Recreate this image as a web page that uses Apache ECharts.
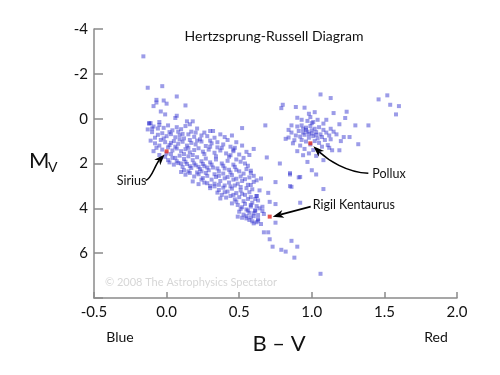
<!DOCTYPE html>
<html><head><meta charset="utf-8">
<script src="https://cdn.jsdelivr.net/npm/echarts@6/dist/echarts.min.js"></script>
<style>html,body{margin:0;padding:0;background:#fff}#c{width:500px;height:375px}</style>
</head><body><div id="c"></div>
<script>
// ---- Data (B-V colour index, absolute magnitude Mv) ----
const xTicks = [-0.5, 0.0, 0.5, 1.0, 1.5, 2.0];
const yTicks = [-4, -2, 0, 2, 4, 6];

const brightStars = [
[-0.16,-2.78],[-0.13,-1.38],[-0.03,-1.45],[-0.07,-0.84],[-0.07,-0.72],[-0.02,-0.81],[0.00,-0.67],[0.07,-0.99],
[-0.09,-0.56],[-0.04,-0.32],[-0.01,-0.19],[0.13,-0.59],[0.07,-0.13],[0.06,-0.03],[-0.12,0.20],[-0.11,0.20],
[-0.05,0.15],[-0.10,0.44],[-0.06,0.44],[0.14,0.12],[0.18,0.12],[0.16,0.25],[0.32,0.55]
];

const mainSequence = [
[-0.12,0.22],[-0.09,0.35],[-0.05,0.28],[-0.02,0.41],[0.01,0.30],[0.04,0.52],[0.07,0.38],[0.10,0.47],[0.13,0.33],[0.17,0.58],
[0.21,0.44],[0.26,0.62],[0.30,0.55],[-0.10,0.60],[-0.06,0.72],[-0.03,0.65],[0.00,0.78],[0.03,0.69],[0.06,0.83],[0.09,0.74],
[0.12,0.88],[0.15,0.70],[0.19,0.81],[0.23,0.92],[0.28,0.78],[0.33,0.85],[0.37,0.70],[0.42,0.95],
[-0.11,0.98],[-0.08,1.10],[-0.04,0.95],[-0.01,1.05],[0.02,1.18],[0.05,1.00],[0.08,1.12],[0.11,1.03],[0.14,1.20],[0.17,1.08],
[0.20,1.15],[0.24,1.02],[0.27,1.22],[0.31,1.10],[0.35,1.28],[0.39,1.15],[0.44,1.25],[0.48,1.05],[0.52,1.20],[-0.07,1.30],
[-0.03,1.38],[0.01,1.28],[0.04,1.42],[0.07,1.33],[0.10,1.45],[0.13,1.36],[0.16,1.50],[0.19,1.40],[0.22,1.32],[0.25,1.47],
[0.29,1.38],[0.33,1.52],[0.37,1.42],[0.41,1.55],[0.46,1.45],[0.50,1.60],[0.55,1.48],
[-0.05,1.62],[-0.01,1.70],[0.03,1.58],[0.06,1.75],[0.09,1.65],[0.12,1.80],[0.15,1.68],[0.18,1.85],[0.21,1.72],[0.24,1.90],
[0.27,1.78],[0.30,1.95],[0.34,1.82],[0.38,2.00],[0.42,1.88],[0.46,2.05],[0.51,1.92],[0.56,2.10],[0.02,1.95],[0.05,2.05],
[0.08,1.98],[0.11,2.15],[0.14,2.02],[0.17,2.20],[0.20,2.08],[0.23,2.25],[0.26,2.12],[0.29,2.30],[0.32,2.18],[0.36,2.35],
[0.40,2.22],[0.44,2.40],[0.48,2.28],[0.53,2.45],[0.58,2.32],
[0.10,2.38],[0.13,2.50],[0.16,2.42],[0.19,2.58],[0.22,2.48],[0.25,2.65],[0.28,2.55],[0.31,2.72],[0.34,2.60],[0.37,2.78],
[0.40,2.66],[0.43,2.85],[0.46,2.72],[0.49,2.90],[0.52,2.78],[0.56,2.95],[0.60,2.82],[0.18,2.80],[0.22,2.92],[0.26,2.85],[0.30,3.00],
[0.30,3.10],[0.33,3.02],[0.36,3.18],[0.39,3.08],[0.42,3.25],[0.45,3.12],[0.48,3.32],[0.51,3.20],[0.54,3.40],[0.57,3.28],
[0.62,3.45],[0.38,3.40],[0.41,3.52],[0.44,3.45],[0.47,3.60],[0.50,3.50],[0.53,3.68],[0.56,3.58],[0.59,3.75],[0.63,3.65],
[0.45,3.78],[0.49,3.85],
[0.52,3.95],[0.55,4.05],[0.58,3.92],[0.61,4.12],[0.64,4.00],[0.50,4.15],[0.53,4.28],[0.57,4.20],[0.60,4.35],[0.63,4.48],
[0.67,4.25],[0.55,4.45],[0.59,4.58],[0.62,4.62],[0.65,4.70],[0.58,4.40]
];

const mainSequenceFill = [
[-0.13,0.48],[-0.08,0.85],[-0.02,0.88],[0.02,0.60],[0.08,0.58],[0.11,0.68],[0.16,0.95],[0.20,0.62],[0.24,0.75],[0.30,0.98],
[0.35,1.05],[0.40,0.82],[0.45,0.75],[-0.09,1.45],[-0.05,1.20],[0.00,1.55],[0.03,1.08],[0.06,1.25],[0.09,0.92],[0.12,1.58],
[0.15,1.30],[0.18,1.62],[0.21,0.98],[0.26,1.58],[0.30,1.25],[0.34,1.68],[0.38,1.30],[0.43,1.70],[0.47,1.30],[0.53,1.75],
[0.57,1.62],[0.60,1.35],[0.01,1.85],[0.04,1.75],[0.07,1.90],[0.10,2.00],[0.13,1.92],[0.16,2.12],[0.19,2.00],[0.22,2.15],
[0.25,2.02],[0.28,2.18],[0.31,2.05],[0.35,2.22],[0.39,2.10],[0.43,2.28],[0.47,2.15],[0.50,2.35],[0.55,2.25],[0.60,2.55],
[0.12,2.30],[0.15,2.35],[0.21,2.40],[0.24,2.35],[0.27,2.42],[0.33,2.48],[0.36,2.55],[0.39,2.45],[0.42,2.60],[0.45,2.52],
[0.48,2.68],[0.51,2.58],[0.54,2.70],[0.57,2.62],[0.62,2.75],[0.24,2.72],[0.28,2.88],[0.33,2.90],[0.36,2.95],[0.40,2.98],
[0.44,3.02],[0.47,2.98],[0.51,3.05],[0.55,3.10],[0.59,3.15],[0.64,3.20],[0.35,3.30],[0.40,3.28],[0.46,3.40],[0.52,3.35],
[0.58,3.50],[0.61,3.58],[0.48,3.70],[0.54,3.80],[0.58,3.85],[0.62,3.90],[0.51,4.02],[0.56,4.10],[0.60,4.22],[0.66,4.12],
[0.49,4.37],[0.52,4.42],[0.55,4.35],[0.57,4.52],[0.60,4.67],[0.63,4.55],[0.46,1.38],[0.44,1.63],[0.48,1.82],[0.54,2.00],[0.37,3.56]
];

const scatteredStars = [
[0.52,0.42],[0.68,0.30],[0.69,1.73],[0.78,2.00],[0.58,2.42],[0.65,2.67],[0.75,2.83],[0.85,2.49],[0.91,2.62],[0.86,3.04],
[0.70,3.31],[1.08,3.14],[0.71,3.71],[0.75,3.81],[0.92,3.75],[0.66,3.93],[0.61,4.08],[0.63,4.30],[0.75,4.64],[0.67,5.07],
[0.70,5.07],[0.71,5.38],[0.73,5.71],[0.79,5.85],[0.82,5.93],[0.86,5.45],[0.90,5.71],[0.88,6.20],[1.06,6.92],[0.62,3.45],
[0.58,2.96],[0.85,3.01]
];

const giants = [
[1.06,-1.08],[1.13,-0.92],[0.80,-0.62],[0.79,-0.47],[0.89,-0.52],[0.95,-0.49],[1.02,-0.29],[1.15,-0.25],[1.24,-0.31],[0.90,-0.04],
[0.99,-0.07],[0.98,-0.22],[1.01,0.15],[1.23,-0.03],[1.19,0.25],[1.30,0.30],[1.39,0.30],[0.84,0.84],[0.88,0.96],[1.26,0.82],
[1.22,0.82],[1.32,1.14],[1.19,1.41],[1.14,1.41],[0.94,1.63],[1.03,1.66],[1.08,1.85],[0.97,1.93],[1.00,2.30],[1.03,2.49],
[0.85,2.43],[0.92,2.60],[1.46,-0.86],[1.52,-1.04],[1.54,-0.62],[1.60,-0.56],[1.58,-0.19]
];

const giantCore = [
[0.90,0.35],[0.93,0.30],[0.96,0.40],[0.99,0.33],[1.02,0.45],[1.05,0.38],[1.08,0.50],[0.91,0.55],[0.94,0.62],[0.97,0.58],
[1.00,0.66],[1.03,0.60],[1.06,0.70],[1.10,0.62],[0.89,0.75],[0.92,0.80],[0.95,0.72],[0.98,0.85],[1.01,0.78],[1.04,0.88],
[1.07,0.82],[1.12,0.75],[1.15,0.58],[0.86,0.62],[0.84,0.50],[0.93,0.95],[0.96,1.02],[1.02,1.00],[1.05,1.08],[1.09,0.95],
[1.13,0.92],[1.17,0.70],[0.99,1.15],[0.92,1.20],[1.07,1.25],[1.11,1.18],[0.95,1.35],[1.01,1.40],[1.05,1.50],[0.98,1.55],
[0.90,1.45],[1.12,1.30],[0.87,1.10],[1.20,1.00],[0.82,0.90],[0.86,0.30],[1.00,0.20],[1.08,0.22],[1.13,0.45],[0.97,0.10],
[1.04,0.05],[0.93,0.05],[1.10,0.05],[0.96,0.50],[1.00,0.52],[0.94,0.45],[1.03,0.72],[0.98,0.68]
];

const namedStars = [
  [0.00, 1.46, 'Sirius'],
  [0.99, 1.10, 'Pollux'],
  [0.71, 4.37, 'Rigil Kentaurus']
];

const FONT = 'Lato, "Open Sans", sans-serif';
const allStars = [].concat(brightStars, mainSequence, mainSequenceFill, scatteredStars, giants, giantCore);

const chart = echarts.init(document.getElementById('c'), null, {renderer: 'canvas'});
const option = {
  animation: false,
  backgroundColor: '#fff',
  grid: {left: 94, right: 43, top: 29, bottom: 77},
  xAxis: {
    type: 'value', min: xTicks[0], max: xTicks[xTicks.length - 1], interval: 0.5,
    splitLine: {show: false},
    axisLine: {onZero: false, lineStyle: {color: '#8a8a8a', width: 1.5}},
    axisTick: {inside: true, length: 6, lineStyle: {color: '#8a8a8a', width: 1.5}},
    axisLabel: {color: '#111', fontFamily: FONT, fontSize: 15, margin: 7,
      formatter: v => v.toFixed(1)}
  },
  yAxis: {
    type: 'value', inverse: true, min: yTicks[0], max: 8, interval: 2,
    splitLine: {show: false},
    axisLine: {onZero: false, lineStyle: {color: '#8a8a8a', width: 1.5}},
    axisTick: {inside: true, length: 9, lineStyle: {color: '#8a8a8a', width: 1.5}},
    axisLabel: {color: '#111', fontFamily: FONT, fontSize: 15, margin: 6,
      formatter: v => (yTicks.indexOf(v) >= 0 ? String(v) : '')}
  },
  series: [
    {type: 'scatter', data: allStars, symbol: 'rect', symbolSize: 4,
     itemStyle: {color: 'rgba(40,40,205,0.58)'}, silent: true, z: 2},
    {type: 'scatter', data: namedStars, symbol: 'rect', symbolSize: 4,
     itemStyle: {color: '#e02a20'}, silent: true, z: 3}
  ],
  graphic: [
    {type: 'text', x: 274, y: 36, style: {text: 'Hertzsprung-Russell Diagram', font: '14px ' + FONT, fill: '#111', textAlign: 'center', textVerticalAlign: 'middle'}},
    {type: 'text', x: 191, y: 282, style: {text: '\u00a9 2008 The Astrophysics Spectator', font: '11px ' + FONT, fill: '#d6d6d6', textAlign: 'center', textVerticalAlign: 'middle'}},
    {type: 'text', x: 120, y: 337, style: {text: 'Blue', font: '14px ' + FONT, fill: '#111', textAlign: 'center', textVerticalAlign: 'middle'}},
    {type: 'text', x: 436, y: 337, style: {text: 'Red', font: '14px ' + FONT, fill: '#111', textAlign: 'center', textVerticalAlign: 'middle'}},
    {type: 'text', x: 279, y: 344, style: {text: 'B \u2013 V', font: '22px ' + FONT, fill: '#111', textAlign: 'center', textVerticalAlign: 'middle'}},
    {type: 'text', x: 29, y: 161, style: {text: 'M', font: '22px ' + FONT, fill: '#111', textAlign: 'left', textVerticalAlign: 'middle'}},
    {type: 'text', x: 48, y: 167, style: {text: 'V', font: '14px ' + FONT, fill: '#111', textAlign: 'left', textVerticalAlign: 'middle'}}
  ]
};
chart.setOption(option);

function arrowParts(tail, c1, c2, tip) {
  const dx = tip[0] - c2[0], dy = tip[1] - c2[1];
  const L = Math.hypot(dx, dy) || 1;
  const ux = dx / L, uy = dy / L, hl = 11, hw = 4;
  const base = [tip[0] - ux * hl, tip[1] - uy * hl];
  const notch = [tip[0] - ux * hl * 0.72, tip[1] - uy * hl * 0.72];
  const p1 = [base[0] - uy * hw, base[1] + ux * hw];
  const p2 = [base[0] + uy * hw, base[1] - ux * hw];
  return [
    {type: 'bezierCurve', shape: {x1: tail[0], y1: tail[1], cpx1: c1[0], cpy1: c1[1], cpx2: c2[0], cpy2: c2[1], x2: notch[0], y2: notch[1]},
     style: {stroke: '#000', lineWidth: 1.6, fill: 'none'}, z: 10},
    {type: 'polygon', shape: {points: [tip, p1, notch, p2]}, style: {fill: '#000'}, z: 10}
  ];
}

const px = namedStars.map(s => chart.convertToPixel({gridIndex: 0}, [s[0], s[1]]));
const off = (p, dx, dy) => [p[0] + dx, p[1] + dy];
const g = option.graphic.slice();
// Sirius
g.push({type: 'text', x: px[0][0] - 35, y: px[0][1] + 30, style: {text: namedStars[0][2], font: '12.5px ' + FONT, fill: '#111', textAlign: 'center', textVerticalAlign: 'middle'}});
g.push(...arrowParts(off(px[0], -21, 29), off(px[0], -15, 28), off(px[0], -12, 14), off(px[0], -2, 3)));
// Pollux
g.push({type: 'text', x: px[1][0] + 62, y: px[1][1] + 31, style: {text: namedStars[1][2], font: '12.5px ' + FONT, fill: '#111', textAlign: 'left', textVerticalAlign: 'middle'}});
g.push(...arrowParts(off(px[1], 58, 30), off(px[1], 36, 29), off(px[1], 18, 17), off(px[1], 3, 3)));
// Rigil Kentaurus
g.push({type: 'text', x: px[2][0] + 43, y: px[2][1] - 12, style: {text: namedStars[2][2], font: '12.5px ' + FONT, fill: '#111', textAlign: 'left', textVerticalAlign: 'middle'}});
const rt = off(px[2], 41, -10), rtip = off(px[2], 3, 0);
g.push(...arrowParts(rt, [rt[0] + (rtip[0] - rt[0]) / 3, rt[1] + (rtip[1] - rt[1]) / 3], [rt[0] + 2 * (rtip[0] - rt[0]) / 3, rt[1] + 2 * (rtip[1] - rt[1]) / 3], rtip));
chart.setOption({graphic: g});
</script>
</body></html>
